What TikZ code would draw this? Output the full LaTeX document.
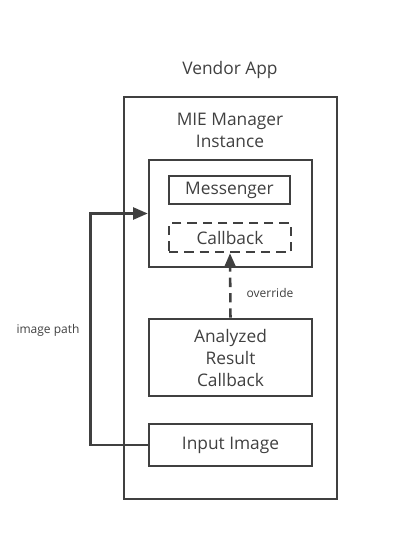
\documentclass[tikz,border=0pt]{standalone}
\usepackage{fontspec}
\setmainfont{Open Sans}
\usetikzlibrary{positioning,arrows.meta}
\definecolor{linegray}{HTML}{404040}

\begin{document}
\begin{tikzpicture}
		[x=0.75pt, y=-0.75pt,
		boxnode/.style={rectangle, draw=linegray, line width=1.9pt, inner sep=0pt, text=linegray, font=\fontsize{13}{16.5}\selectfont, align=center},
		dashnode/.style={boxnode, dash pattern=on 7pt off 4.5pt},
		titlenode/.style={text=linegray, font=\fontsize{13}{16.5}\selectfont, align=center, inner sep=0pt},
		smallnode/.style={text=linegray, font=\fontsize{9}{11}\selectfont, inner sep=0pt},
		link/.style={draw=linegray, line width=1.9pt, -{Triangle[length=11pt, width=9pt]}},
		]
		\useasboundingbox (0,0) rectangle (404,538);
		
		%Nodes
		\node[boxnode, minimum width=159.75pt, minimum height=301.5pt](vendor) at (230.5,298) {};
		\node[titlenode](vendortitle) at (230,70) {Vendor App};
		\node[boxnode, minimum width=122.25pt, minimum height=80.25pt](manager) at (230.5,213.5) {};
		\node[titlenode](managertitle) at (230,130) {MIE Manager\\Instance};
		\node[boxnode, minimum width=90.75pt, minimum height=21pt](messenger) at (229.5,190) {Messenger};
		\node[dashnode, minimum width=91.5pt, minimum height=21.75pt](callback) at (230,237.5) {Callback};
		\node[boxnode, minimum width=122.25pt, minimum height=57.75pt](analyzed) at (230.5,357.5) {Analyzed\\Result\\Callback};
		\node[boxnode, minimum width=122.25pt, minimum height=31.5pt](input) at (230.5,445) {Input Image};
		\node[smallnode](overridelabel) at (270,293) {override};
		\node[smallnode](pathlabel) at (48,330) {image path};
		
		%Lines
		\draw[link, dash pattern=on 7pt off 4.5pt](analyzed.north) -- (callback.south);
		\draw[link](input.west) -- ++(-57,0) |- (manager.west);
	\end{tikzpicture}
\end{document}
